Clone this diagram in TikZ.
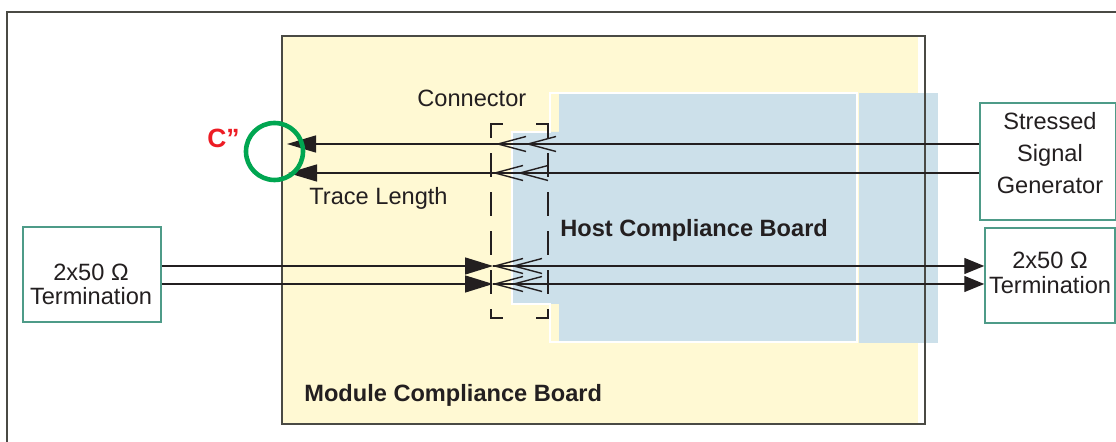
\documentclass[tikz,border=0pt]{standalone}
\usepackage{fontspec}
\setmainfont{Liberation Sans}
\usepackage{xcolor}
\usetikzlibrary{arrows.meta}
\definecolor{jaune}{HTML}{FFF9D3}
\definecolor{bleu}{HTML}{CCE0EA}
\definecolor{vertbord}{HTML}{4E9B88}
\definecolor{vertcercle}{HTML}{00A651}
\definecolor{rouge}{HTML}{ED1C24}
\definecolor{encre}{HTML}{231F20}
\definecolor{cadre}{HTML}{4A4A44}
\newcommand*{\demiBroche}{7.5}
\newcommand*{\longBroche}{28}
\tikzset{
	texte/.style={font=\fontsize{11.8}{14}\selectfont,text=encre,inner sep=0pt},
	gras/.style={texte,font=\fontsize{11.8}{14}\selectfont\bfseries},
	boite/.style={draw=vertbord,line width=0.75pt,fill=white,inner sep=0pt},
	signal/.style={draw=encre,line width=0.7pt},
	pointilles/.style={draw=encre,line width=0.65pt,line cap=rect},
	flecheG/.style={-{Triangle[length=14.5pt,width=8.5pt]}},
	flecheE/.style={-{Triangle[length=14pt,width=8.5pt]}},
	flecheS/.style={-{Triangle[length=10pt,width=8pt]}},
	broche/.pic={
		\draw[signal](\longBroche,-\demiBroche)--(0,0)--(\longBroche,\demiBroche);
	},
}

\begin{document}
\begin{tikzpicture}[x=0.5pt,y=-0.5pt]
	\useasboundingbox (0,0) rectangle (1116,442);
	\draw[cadre,line width=0.75pt] (7,442)--(7,12)--(1116,12);
	
	\fill[jaune] (282,36) rectangle (918,424);
	\fill[bleu] (512,132)--(559,132)--(559,93)--(857,93)--(857,342)--(559,342)--(559,304)--(512,304)--cycle;
	\fill[bleu] (859,93) rectangle (938,343);
	\draw[white,line width=0.6pt] (512,132)--(550,132)--(550,93)--(857,93)--(857,342)--(550,342)--(550,304)--(512,304)--cycle;
	\draw[cadre,line width=0.8pt] (282,36) rectangle (925,424);
	
	\node[texte,anchor=base west] (connecteur) at (417,107) {Connector};
	\node[texte,anchor=base west] (trace) at (309,205) {Trace Length};
	\node[gras,anchor=base west] (hote) at (560,237) {Host Compliance Board};
	\node[gras,anchor=base west] (module) at (304,402) {Module Compliance Board};
	\node[gras,text=rouge,font=\fontsize{13.2}{15}\selectfont\bfseries,anchor=base west] (C) at (207,148) {C”};
	
	\node[boite,minimum width=69pt,minimum height=47.5pt] (termG) at (92,274.5) {};
	\node[boite,minimum width=65pt,minimum height=47.5pt] (termD) at (1050,275.5) {};
	\node[boite,minimum width=68pt,minimum height=58.5pt] (gen) at (1048,161.5) {};
	\node[texte,align=center,font=\fontsize{11.8}{12}\selectfont] (termGtxt) at (91,284) {2x50 Ω\\Termination};
	\node[texte,align=center,font=\fontsize{11.8}{12.5}\selectfont] (termDtxt) at (1050,273) {2x50 Ω\\Termination};
	\node[texte,align=center,font=\fontsize{11.8}{16}\selectfont] (gentxt) at (1050,153.5) {Stressed\\Signal\\Generator};
	
	\coordinate (hautA) at (287,144);
	\coordinate (hautB) at (288,173);
	\coordinate (basA) at (493,266);
	\coordinate (basB) at (493,284);
	\draw[signal,flecheG] (gen.west |- hautA) -- (hautA);
	\draw[signal,flecheG] (gen.west |- hautB) -- (hautB);
	\draw[signal,flecheE] (termG.east |- basA) -- (basA);
	\draw[signal,flecheE] (termG.east |- basB) -- (basB);
	\draw[signal,flecheS] (basA) -- (termD.west |- basA);
	\draw[signal,flecheS] (basB) -- (termD.west |- basB);
	
	\foreach \bx/\by in {498/144,528/144,495/173,520/173,495/266,514/266,495/284,514/284}
		\pic at (\bx,\by) {broche};
	
	\draw[pointilles,dash pattern=on 11pt off 8.5pt,dash phase=4.5pt] (491,124)--(491,318);
	\draw[pointilles,dash pattern=on 11pt off 8.5pt,dash phase=4.5pt] (548,124)--(548,318);
	\draw[pointilles,dash pattern=on 5.5pt off 17.5pt] (491,124)--(548,124);
	\draw[pointilles,dash pattern=on 5.5pt off 17.5pt] (491,318)--(548,318);
	
	\node[circle,draw=vertcercle,line width=2.3pt,minimum size=28.5pt,inner sep=0pt] (cercle) at (274.5,151.5) {};
\end{tikzpicture}
\end{document}
